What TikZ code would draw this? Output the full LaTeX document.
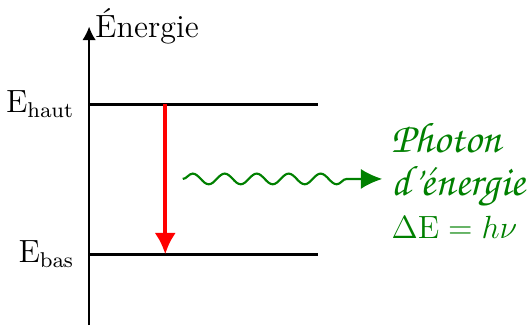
\documentclass[tikz,border=0pt]{standalone}
\usepackage{amsmath}
\usetikzlibrary{arrows.meta, decorations.pathmorphing, positioning}
\newcommand{\cursif}[1]{{\fontencoding{T1}\fontfamily{pzc}\fontseries{mb}\fontshape{it}\fontsize{16}{16}\selectfont #1}}

\begin{document}
\begin{tikzpicture}[
		every node/.style={font=\large},
		level/.style={line width=1pt},
		transition/.style={red, line width=1.5pt, -{Latex[length=8pt,width=8pt]}},
		photon/.style={green!50!black, thick, -{Latex[length=8pt,width=7.5pt]},
			decorate, decoration={snake, amplitude=2pt, segment length=0.42cm, post length=0.3cm}}
	]
		\useasboundingbox (-1.17,-0.01) rectangle (5.79,4.27);
		% Draw axis
		\coordinate (O) at (0,0);
		\coordinate (top) at (0,3.92);
		\draw[semithick, -{Latex[length=5pt,width=5pt]}] (O) -- (top) node[right, inner sep=2pt] (energie) {Énergie};
		% Energy levels
		\coordinate (haut) at (0,2.9);
		\coordinate (hautR) at (3,2.9);
		\coordinate (bas) at (0,0.93);
		\coordinate (basR) at (3,0.93);
		\draw[level] (haut) -- (hautR);
		\draw[level] (bas) -- (basR);
		\node[left=2pt of haut] (Ehaut) {E$_{\mathrm{haut}}$};
		\node[left=2pt of bas] (Ebas) {E$_{\mathrm{bas}}$};
		% Transition
		\coordinate (from) at (1,2.9);
		\coordinate (to) at (1,0.93);
		\draw[transition] (from) -- (to);
		% Photon
		\coordinate (w0) at (1.23,1.92);
		\node[green!50!black, right, align=left] (txt) at (3.85,1.9)
			{\cursif{Photon}\\[2pt] \cursif{d'\'energie}\\[2pt] $\Delta\mathrm{E} = h\nu$};
		\draw[photon] (w0) -- (w0 -| txt.west);
	\end{tikzpicture}
\end{document}
